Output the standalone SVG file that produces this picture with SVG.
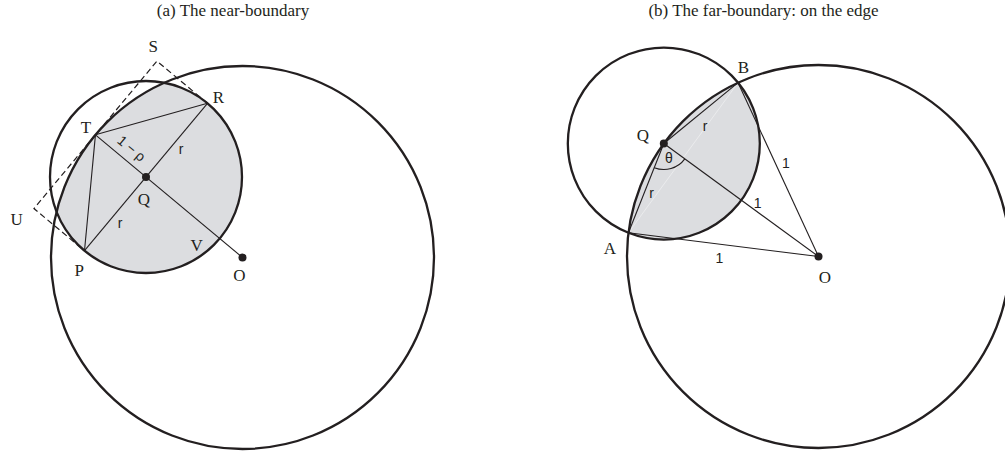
<svg xmlns="http://www.w3.org/2000/svg" width="1005" height="457" viewBox="0 0 1005 457">
<style>
.circ{fill:none;stroke:#231f20;stroke-width:2.3}
.lens{fill:#dcdde0;stroke:none}
.ln{fill:none;stroke:#231f20;stroke-width:1.1}
.dash{fill:none;stroke:#231f20;stroke-width:1.2;stroke-dasharray:6 3.5}
.dot{fill:#231f20}
.lbl{font-family:"Liberation Serif","Times New Roman",serif;font-size:17px;fill:#231f20;text-anchor:middle}
.sm{font-family:"Liberation Sans",Arial,sans-serif;font-size:14px;fill:#231f20;text-anchor:middle}
.title{font-family:"Liberation Serif","Times New Roman",serif;font-size:17px;fill:#231f20;text-anchor:middle}
</style>
<rect width="1005" height="457" fill="#fff"/>
<text class="title" x="233" y="16">(a) The near-boundary</text>
<text class="title" x="763.5" y="16">(b) The far-boundary: on the edge</text>

<!-- (a) -->
<g id="a-fill">
<path class="dash" d="M207.5,103.28 L156.95,61.11 L33.95,208.55 L84.5,250.72"/>
<path class="lens" d="M164.21,82.73 A191.5,191.5 0 0 0 56.53,211.81 A96,96 0 1 0 164.21,82.73 Z"/>
</g>
<g id="a-connectors">
<line class="ln" x1="95.45" y1="134.83" x2="207.5" y2="103.28"/>
<line class="ln" x1="95.45" y1="134.83" x2="84.5" y2="250.72"/>
<line class="ln" x1="207.5" y1="103.28" x2="84.5" y2="250.72"/>
<line class="ln" x1="95.45" y1="134.83" x2="242.5" y2="257.5"/>
</g>
<g id="a-bigcircle"><circle class="circ" cx="242.5" cy="257.5" r="191.5"/></g>
<g id="a-smallcircle"><circle class="circ" cx="146" cy="177" r="96"/></g>
<g id="a-Q"><circle class="dot" cx="146" cy="177" r="4"/><text class="lbl" x="144" y="205">Q</text></g>
<g id="a-O"><circle class="dot" cx="242.5" cy="257.5" r="4"/><text class="lbl" x="239.3" y="280.5">O</text></g>
<g id="a-S"><text class="lbl" x="153.3" y="51.5">S</text></g>
<g id="a-R"><text class="lbl" x="218.3" y="102.5">R</text></g>
<g id="a-T"><text class="lbl" x="86" y="133">T</text></g>
<g id="a-U"><text class="lbl" x="16.7" y="225">U</text></g>
<g id="a-P"><text class="lbl" x="79.3" y="276">P</text></g>
<g id="a-V"><text class="lbl" x="196.7" y="250.5">V</text></g>
<g id="a-labels">
<text class="sm" x="181" y="153.5">r</text>
<text class="sm" x="120" y="227.5">r</text>
<text class="sm" transform="translate(131.7,148.3) rotate(39.8)" x="0" y="5">1 − ρ</text>
</g>

<!-- (b) -->
<g id="b-fill">
<path class="lens" d="M738.08,82.67 A191.5,191.5 0 0 0 628.44,232.79 A96,96 0 0 0 738.08,82.67 Z"/>
<line x1="628.44" y1="232.79" x2="738.08" y2="82.67" stroke="#fff" stroke-width="0.6" stroke-opacity="0.7"/>
</g>
<g id="b-connectors">
<line class="ln" x1="663.82" y1="143.53" x2="628.44" y2="232.79"/>
<line class="ln" x1="663.82" y1="143.53" x2="738.08" y2="82.67"/>
<line class="ln" x1="663.82" y1="143.53" x2="818.5" y2="256.5"/>
<line class="ln" x1="628.44" y1="232.79" x2="818.5" y2="256.5"/>
<line class="ln" x1="738.08" y1="82.67" x2="818.5" y2="256.5"/>
<path class="ln" d="M654.24,167.7 A26,26 0 0 0 684.82,158.87"/>
</g>
<g id="b-bigcircle"><circle class="circ" cx="818.5" cy="256.5" r="191.5"/></g>
<g id="b-smallcircle"><circle class="circ" cx="663.82" cy="143.53" r="96"/></g>
<g id="b-Q"><circle class="dot" cx="663.82" cy="143.53" r="4"/><text class="lbl" x="643" y="141">Q</text></g>
<g id="b-O"><circle class="dot" cx="818.5" cy="256.5" r="4"/><text class="lbl" x="825" y="283">O</text></g>
<g id="b-A"><text class="lbl" x="610" y="254">A</text></g>
<g id="b-B"><text class="lbl" x="743.3" y="72.5">B</text></g>
<g id="b-labels">
<text class="sm" x="705" y="130.5">r</text>
<text class="sm" x="651.7" y="197.8">r</text>
<text class="sm" x="786" y="168.3">1</text>
<text class="sm" x="757.7" y="207.7">1</text>
<text class="sm" x="719.3" y="263.3">1</text>
<text class="sm" x="669" y="163">θ</text>
</g>
</svg>
